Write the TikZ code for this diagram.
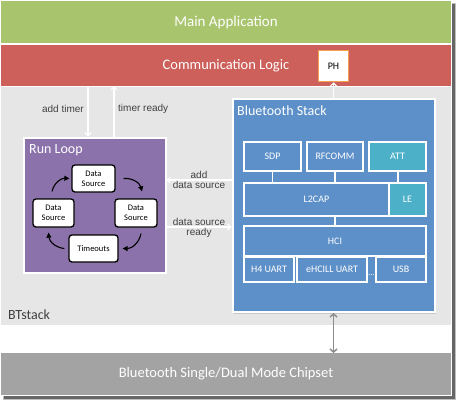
\documentclass[tikz,border=0pt]{standalone}
\usepackage{fontspec}
\setmainfont{Carlito}
\newfontfamily\arialf{Liberation Sans}
\usetikzlibrary{arrows.meta,shadows,calc}
\definecolor{appgreen}{HTML}{A8C46C}
\definecolor{commred}{HTML}{CD605A}
\definecolor{phorange}{HTML}{F5A050}
\definecolor{regiongray}{HTML}{E6E6E6}
\definecolor{stackblue}{HTML}{5D90C9}
\definecolor{leteal}{HTML}{4CB0C8}
\definecolor{looppurple}{HTML}{8C72AB}
\definecolor{chipgray}{HTML}{A3A3A3}
\definecolor{labelgray}{HTML}{404040}
\definecolor{linkgray}{HTML}{8C8C8C}
\tikzset{
  band/.style={rectangle, inner sep=0pt, outer sep=0pt, draw=none, text=white,
    font=\fontsize{14.5}{16}\selectfont},
  bigbox/.style={rectangle, draw=white, line width=2pt, inner sep=0pt,
    drop shadow={opacity=0.3, shadow xshift=1.5pt, shadow yshift=-1.5pt}},
  boxtitle/.style={anchor=west, inner sep=0pt, text=white, font=\fontsize{14}{16}\selectfont},
  sbox/.style={rectangle, draw=white, line width=1.2pt, fill=stackblue, text=white,
    inner sep=0pt, font=\fontsize{10}{12}\selectfont},
  dsbox/.style={rectangle, draw=black, line width=1.3pt, fill=white, rounded corners=3pt,
    text=black, inner sep=0pt, align=center, font=\fontsize{8.5}{10}\selectfont,
    drop shadow={opacity=0.3, shadow xshift=1pt, shadow yshift=-1pt}},
  lbl/.style={inner sep=1pt, text=labelgray, font=\arialf\fontsize{10}{11}\selectfont},
  warrow/.style={draw=white, line width=1.2pt, -{Straight Barb[length=3pt,width=6pt]}},
  wline/.style={draw=white, line width=1.2pt},
  larrow/.style={draw=black, line width=1.1pt, -{Triangle[length=5pt,width=5pt]}, bend left=40},
}
\begin{document}
\begin{tikzpicture}[x=1pt,y=-1pt]
\useasboundingbox (0,0) rectangle (457,400);
% frame shadow
\fill[black!25] (3,3) rectangle (456,400);
\fill[black!60] (4,4) rectangle (454.5,398.5);
\fill[white] (0,0) rectangle (452,396);
% bands
\node[band, fill=appgreen, minimum width=450, minimum height=42, font=\fontsize{15}{17}\selectfont] (app) at (226,22) {Main Application};
\node[band, fill=commred, minimum width=450, minimum height=41] (comm) at (226,65.5) {Communication Logic};
\node[band, fill=regiongray, minimum width=450, minimum height=238] (btstack) at (226,206) {};
\node[band, fill=chipgray, minimum width=450, minimum height=42] (chip) at (226,374) {Bluetooth Single/Dual Mode Chipset};
\node[anchor=west, inner sep=0pt, text=labelgray, font=\fontsize{14}{16}\selectfont] (btlabel) at (8,315) {BTstack};
% PH
\node[rectangle, draw=phorange, line width=1.5pt, fill=white, minimum width=30, minimum height=31,
  inner sep=0pt, text=black, font=\fontsize{10}{12}\selectfont] (ph) at (333.5,66) {PH};
% Bluetooth stack
\node[bigbox, fill=stackblue, minimum width=202, minimum height=213] (stack) at (333.5,205.5) {};
\node[boxtitle] (stacktitle) at (237,111) {Bluetooth Stack};
\node[sbox, minimum width=57, minimum height=29] (sdp) at (272.5,156.5) {SDP};
\node[sbox, minimum width=56, minimum height=29] (rfcomm) at (335,156.5) {RFCOMM};
\node[sbox, fill=leteal, minimum width=57, minimum height=29] (att) at (397.5,156.5) {ATT};
\node[sbox, minimum width=145, minimum height=33] (l2cap) at (316.5,199.5) {L2CAP};
\node[sbox, fill=leteal, minimum width=37, minimum height=33] (le) at (407.5,199.5) {LE};
\node[sbox, minimum width=182, minimum height=30] (hci) at (335,241) {HCI};
\node[sbox, minimum width=50, minimum height=25] (h4) at (269,269.5) {H4 UART};
\node[sbox, minimum width=70, minimum height=25] (ehcill) at (332,269.5) {eHCILL UART};
\node[sbox, minimum width=50, minimum height=25] (usb) at (401,269.5) {USB};
\node[inner sep=0pt, text=white, font=\fontsize{9}{10}\selectfont] (dots) at (371.5,275) {...};
\draw[wline] (sdp.south) -- (sdp.south |- l2cap.north);
\draw[wline] (rfcomm.south) -- (rfcomm.south |- l2cap.north);
\draw[wline] ([xshift=0.5pt]att.south) -- ([xshift=0.5pt]att.south |- le.north);
\draw[wline] (hci.north) -- (hci.north |- l2cap.south);
% Run loop
\node[bigbox, fill=looppurple, minimum width=142, minimum height=135] (loop) at (94.5,205) {};
\node[boxtitle] (looptitle) at (29,150) {Run Loop};
\node[dsbox, minimum width=43, minimum height=27] (dst) at (93.5,178.5) {Data\\Source};
\node[dsbox, minimum width=41, minimum height=28] (dsl) at (53.5,213) {Data\\Source};
\node[dsbox, minimum width=42, minimum height=28] (dsr) at (136,213) {Data\\Source};
\node[dsbox, minimum width=49, minimum height=27] (tmo) at (93.5,248.5) {Timeouts};
\draw[larrow] ([xshift=-1.5pt,yshift=7pt]dsl.north) to ([xshift=-2pt]dst.west);
\draw[larrow] ([xshift=8pt]dst.east) to ([xshift=6pt,yshift=7pt]dsr.north);
\draw[larrow] ([xshift=5pt,yshift=-6pt]dsr.south) to ([xshift=4pt]tmo.east);
\draw[larrow] ([xshift=-4pt]tmo.west) to ([xshift=-5pt,yshift=-5pt]dsl.south);
% timer arrows
\draw[warrow] (comm.south -| 88,0) -- (loop.north -| 88,0);
\draw[warrow] (loop.north -| 114,0) -- (comm.south -| 114,0);
\node[lbl, anchor=east] (addtimer) at (85,109) {add timer};
\node[lbl, anchor=west] (timerready) at (117,109) {timer ready};
% data source arrows
\draw[warrow] (stack.west |- 0,180) -- (loop.east |- 0,180)
  node[lbl, midway, above=0pt] (adddslbl) {add}
  node[lbl, midway, below=0pt] (adddslbl2) {data source};
\draw[warrow] (loop.east |- 0,227) -- (stack.west |- 0,227)
  node[lbl, midway, above=0pt] (dsrlbl) {data source}
  node[lbl, midway, below=0pt] (dsrlbl2) {ready};
% PH arrow
\draw[warrow] (stack.north -| ph.south) -- (ph.south);
% chipset link
\draw[draw=linkgray, line width=1.5pt, {Straight Barb[length=3pt,width=7pt]}-{Straight Barb[length=3pt,width=7pt]}]
  (stack.south) -- (chip.north -| stack.south);
\end{tikzpicture}
\end{document}
